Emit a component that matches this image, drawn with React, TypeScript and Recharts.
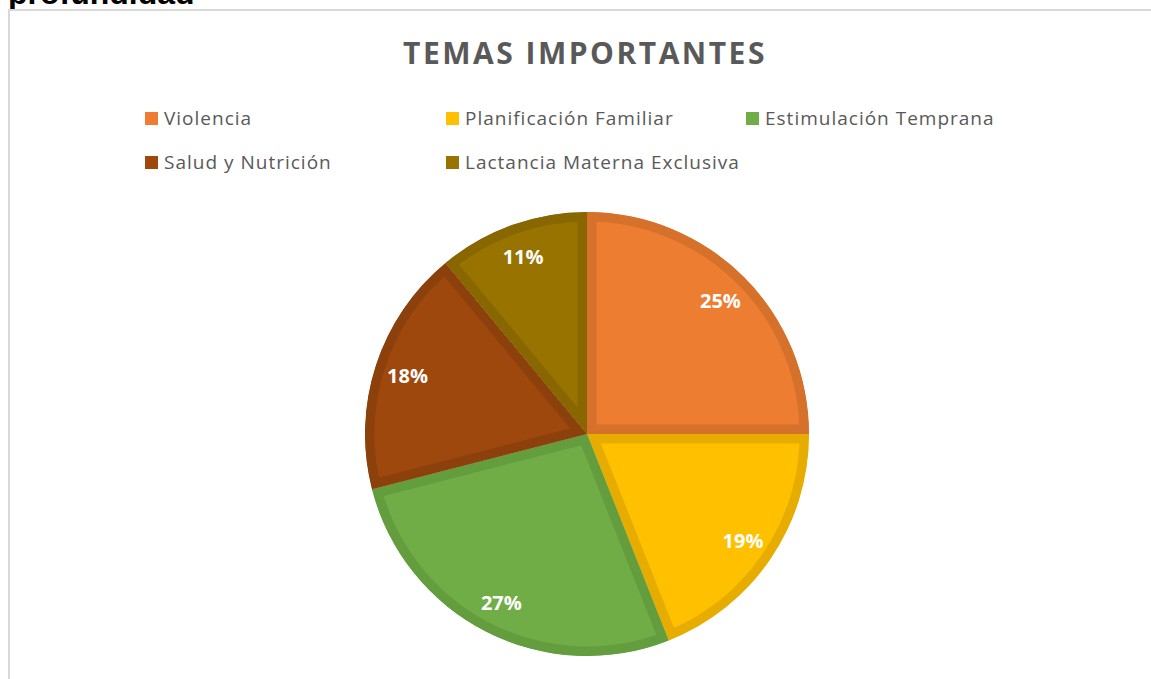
import React from 'react';
import { PieChart, Pie, Cell, Sector, Legend } from 'recharts';

const temas = [
  'Violencia',
  'Planificación Familiar',
  'Estimulación Temprana',
  'Salud y Nutrición',
  'Lactancia Materna Exclusiva',
];
const porcentajes = [25, 19, 27, 18, 11];
const colores = ['#ED7D31', '#FFC000', '#70AD47', '#9E480E', '#997300'];
const bordes = ['#D6712C', '#E6AD00', '#639D3E', '#8C400C', '#886600'];

const data = temas.map((name, i) => ({ name, value: porcentajes[i], border: bordes[i] }));

const RADIAN = Math.PI / 180;
const FONT = '"Open Sans", sans-serif';

// sector with its border drawn only on the inside (stroke clipped to the slice)
const Slice = (props: any) => {
  const border = props.payload?.border ?? props.border;
  const id = `clip-${Math.round(props.startAngle * 100)}`;
  return (
    <g>
      <defs>
        <clipPath id={id}>
          <Sector
            cx={props.cx}
            cy={props.cy}
            innerRadius={0}
            outerRadius={props.outerRadius}
            startAngle={props.startAngle}
            endAngle={props.endAngle}
          />
        </clipPath>
      </defs>
      <g clipPath={`url(#${id})`}>
        <Sector
          cx={props.cx}
          cy={props.cy}
          innerRadius={0}
          outerRadius={props.outerRadius}
          startAngle={props.startAngle}
          endAngle={props.endAngle}
          fill={props.fill}
          stroke={border}
          strokeWidth={19}
        />
      </g>
    </g>
  );
};

const renderLabel = (props: any) => {
  const { cx, cy, midAngle, outerRadius, value } = props;
  const r = outerRadius * 0.85;
  const x = cx + r * Math.cos(-midAngle * RADIAN);
  const y = cy + r * Math.sin(-midAngle * RADIAN);
  return (
    <text
      x={x}
      y={y}
      fill="#FFFFFF"
      fontFamily={FONT}
      fontSize={20}
      fontWeight="bold"
      textAnchor="middle"
      dominantBaseline="central"
    >
      {`${value}%`}
    </text>
  );
};

// legend columns / rows as in the original (3 + 2 items)
const legendCols = [135, 436, 736];
const legendRows = [107, 151];

const CustomLegend = () => (
  <div style={{ position: 'relative', width: 1139, height: 1 }}>
    {temas.map((t, i) => {
      const col = i < 3 ? i : i - 3;
      const row = i < 3 ? 0 : 1;
      return (
        <div
          key={t}
          style={{
            position: 'absolute',
            left: legendCols[col],
            top: legendRows[row] - 12,
            height: 24,
            display: 'flex',
            alignItems: 'center',
            fontFamily: FONT,
            fontSize: 19,
            letterSpacing: 1,
            color: '#595959',
            whiteSpace: 'nowrap',
          }}
        >
          <span style={{ width: 13, height: 13, background: colores[i], marginRight: 6, display: 'inline-block' }} />
          {t}
        </div>
      );
    })}
  </div>
);

export default function App() {
  return (
    <div style={{ position: 'fixed', left: 0, top: 0, width: 1151, height: 679, overflow: 'hidden', background: '#fff' }}>
      <div
        style={{
          position: 'absolute',
          left: 8,
          top: -25,
          fontFamily: '"Liberation Sans", Arial, sans-serif',
          fontWeight: 'bold',
          fontSize: 32,
          color: '#000',
        }}
      >
        profundidad
      </div>
      <div
        style={{
          position: 'absolute',
          left: 8,
          top: 9,
          width: 1143,
          height: 670,
          boxSizing: 'border-box',
          borderTop: '2px solid #D9D9D9',
          borderLeft: '2px solid #D9D9D9',
          background: '#fff',
        }}
      >
        <div
          style={{
            position: 'absolute',
            left: 175,
            width: 800,
            top: 21,
            textAlign: 'center',
            fontFamily: FONT,
            fontWeight: 'bold',
            fontSize: 30,
            color: '#595959',
            letterSpacing: 2.5,
          }}
        >
          TEMAS IMPORTANTES
        </div>
        <PieChart width={1139} height={667}>
          <Legend
            content={<CustomLegend />}
            verticalAlign="top"
            wrapperStyle={{ left: 0, top: 0, width: 1139 }}
          />
          <Pie
            data={data}
            dataKey="value"
            nameKey="name"
            cx={572}
            cy={417}
            outerRadius={222}
            startAngle={90}
            endAngle={-270}
            isAnimationActive={false}
            labelLine={false}
            label={renderLabel}
            shape={Slice}
            inactiveShape={Slice}
          >
            {data.map((d, i) => (
              <Cell key={d.name} fill={colores[i]} />
            ))}
          </Pie>
        </PieChart>
      </div>
    </div>
  );
}
